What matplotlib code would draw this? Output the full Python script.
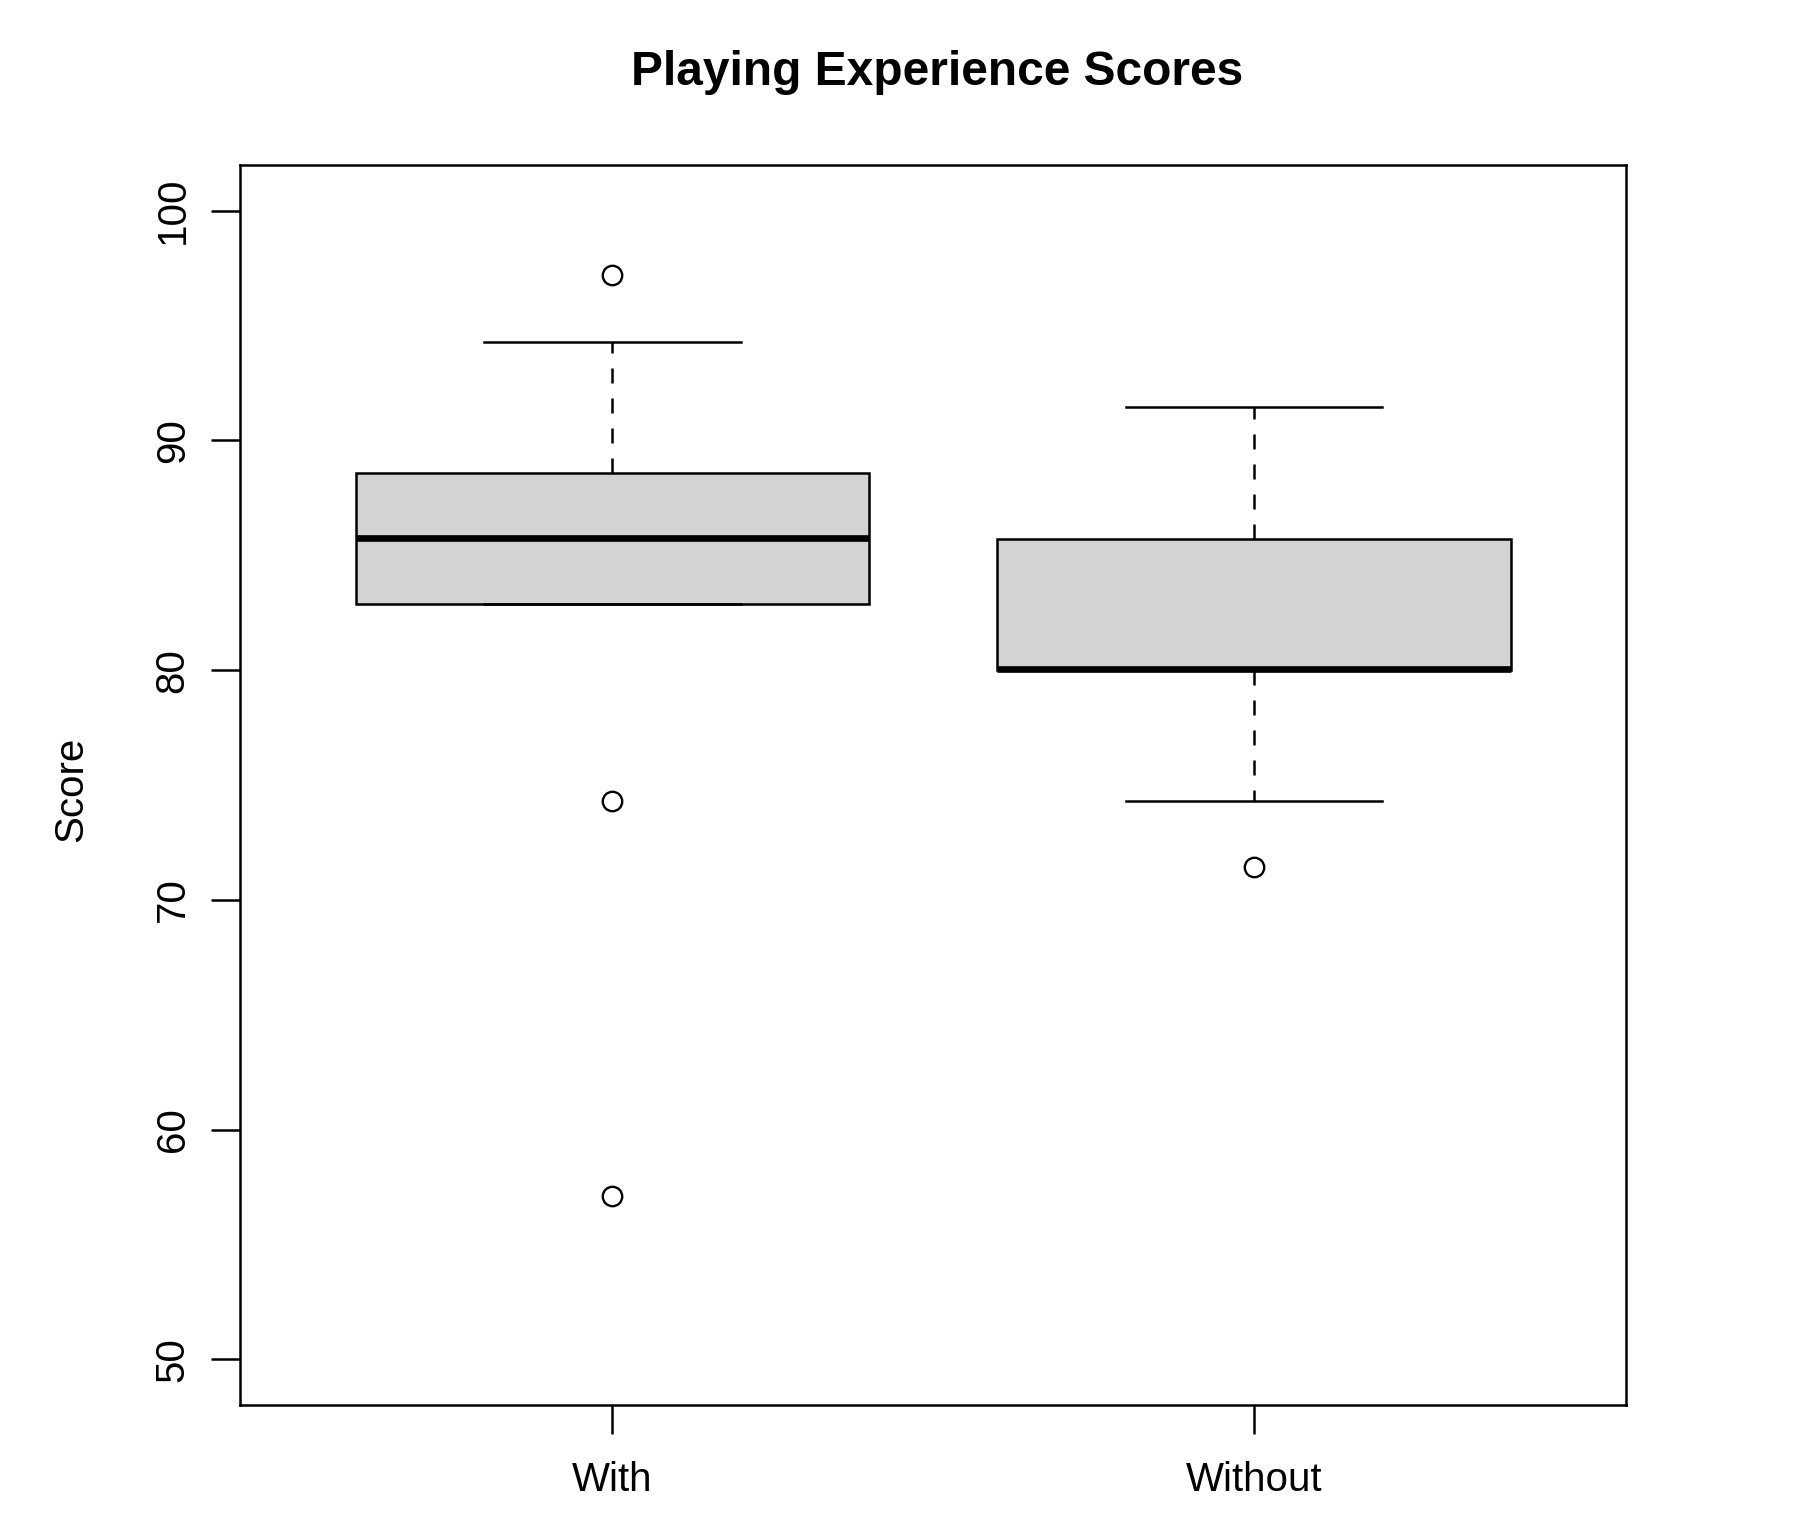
import matplotlib
matplotlib.use("Agg")
import matplotlib.pyplot as plt

plt.rcParams['font.family'] = ['Liberation Sans', 'DejaVu Sans']

# Boxplot summary values (R-style boxplot)
groups = ["With", "Without"]
whisker_low = [82.9, 74.3]
q1 = [82.9, 80.0]
medians = [85.75, 80.05]
q3 = [88.6, 85.7]
whisker_high = [94.3, 91.45]
outliers = [[97.2, 74.3, 57.1], [71.45]]
y_ticks = [50, 60, 70, 80, 90, 100]

stats = []
for i, name in enumerate(groups):
    stats.append({'label': name, 'whislo': whisker_low[i], 'q1': q1[i],
                  'med': medians[i], 'q3': q3[i], 'whishi': whisker_high[i],
                  'fliers': outliers[i]})

fig = plt.figure(figsize=(18, 15.4), dpi=100)
ax = fig.add_axes([0.1335, 0.0875, 0.770, 0.8055])

lw = 1.8
ax.bxp(stats, positions=[1, 2], widths=0.8, capwidths=[0.4, 0.4],
       patch_artist=True,
       boxprops=dict(facecolor='#D3D3D3', edgecolor='black', linewidth=lw),
       medianprops=dict(color='black', linewidth=4.8, solid_capstyle='butt'),
       whiskerprops=dict(color='black', linewidth=lw, linestyle=(0, (6, 6))),
       capprops=dict(color='black', linewidth=lw),
       flierprops=dict(marker='o', markerfacecolor='none', markeredgecolor='black',
                       markersize=14, markeredgewidth=1.7))

ax.set_xlim(0.42, 2.58)
ax.set_ylim(48, 102)
ax.set_yticks(y_ticks)
ax.set_yticklabels([str(v) for v in y_ticks], rotation=90, va='center')
ax.set_xticks([1, 2])
ax.set_xticklabels(groups)

for s in ax.spines.values():
    s.set_linewidth(lw)
ax.tick_params(axis='both', length=21, width=lw, labelsize=29)
ax.tick_params(axis='y', pad=14)
ax.tick_params(axis='x', pad=19)

fig.text(0.5205, 1 - 72.5 / 1540, "Playing Experience Scores", ha='center', va='center',
         fontsize=34.5, fontweight='bold')
fig.text(0.0397, 0.4877, "Score", rotation=90, ha='center', va='center', fontsize=29)

fig.savefig("out.png", dpi=100)
